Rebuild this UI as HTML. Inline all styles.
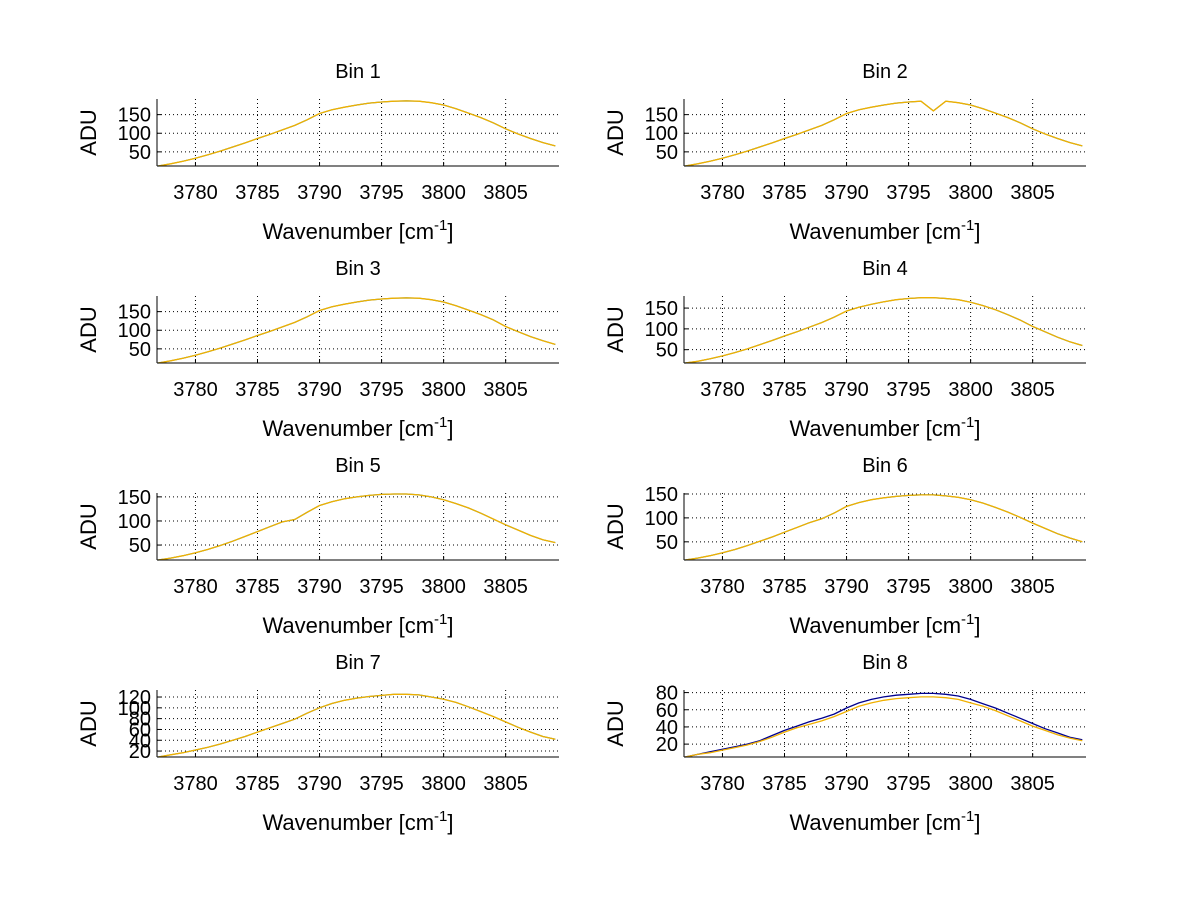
<!DOCTYPE html>
<html><head><meta charset="utf-8">
<style>
body{margin:0;background:#fff;}
svg{display:block;font-family:"Liberation Sans",sans-serif;}
</style></head>
<body>
<svg id="fig" width="1200" height="901" viewBox="0 0 1200 901"></svg>
<script>
const wavenumbers=[3777,3778,3779,3780,3781,3782,3783,3784,3785,3786,3787,3788,3789,3790,3791,3792,3793,3794,3795,3796,3797,3798,3799,3800,3801,3802,3803,3804,3805,3806,3807,3808,3809];
const xTicks=[3780,3785,3790,3795,3800,3805];
const bin1=[12,18,25,33,42,52,63,74,86,97,109,121,136,153,163,170,176,181,184,186,187,186,182,176,166,154,142,128,112,98,86,75,66];
const bin2=[12,18,25,33,42,52,63,74,86,97,109,121,136,153,163,170,176,181,184,186,160,186,182,176,166,154,142,128,112,98,86,75,66];
const bin3=[12,18,25,33,42,52,63,74,86,97,109,121,136,153,163,170,176,181,184,186,187,186,182,176,166,154,142,128,110,96,83,72,62];
const bin4=[18,22,28,35,43,52,62,72,83,93,104,115,128,143,152,159,165,170,173,175,175,173,170,164,156,146,134,121,106,93,80,69,60];
const bin5=[19,23,28,34,41,49,58,68,78,88,98,103,118,132,140,146,150,153,155,156,156,154,150,144,136,127,116,104,92,81,70,61,55];
const bin6=[12,16,21,27,34,42,51,60,70,80,90,98,110,124,132,138,142,145,147,148,148,146,143,138,131,122,112,101,89,78,67,58,50];
const bin7=[9,13,17,22,27,33,40,47,55,63,71,79,90,100,108,114,118,121,123,125,125,124,120,116,110,102,93,84,74,64,55,47,42];
const bin8blue=[5,8,11,14,17,20,24,30,36,41,46,50,55,62,68,72,75,77,78,79,79,78,76,72,67,62,56,50,44,38,33,28,25];
const bin8orange=[5,8,10,13,16,19,23,28,34,39,43,47,52,58,64,68,71,73,74,75,75,74,72,68,64,59,53,47,41,36,31,27,24];
const seriesList=[[bin1],[bin2],[bin3],[bin4],[bin5],[bin6],[bin7],[bin8blue,bin8orange]];
const yRanges=[[12,192],[12,192],[12,192],[18,179],[19,158],[12,152],[9,133],[5,83]];
const yTickSets=[[50,100,150],[50,100,150],[50,100,150],[50,100,150],[50,100,150],[50,100,150],[20,40,60,80,100,120],[20,40,60,80]];
const xMin=3776.9,xMax=3809.3;

const svg=document.getElementById('fig');
const NS='http://www.w3.org/2000/svg';
function mk(tag,attrs,parent){const e=document.createElementNS(NS,tag);for(const k in attrs)e.setAttribute(k,attrs[k]);(parent||svg).appendChild(e);return e;}

for(let i=0;i<8;i++){
  const col=i%2,row=Math.floor(i/2);
  const L=col?684:157,R=col?1086:559,T=99+row*197,B=T+67;
  const [y0,y1]=yRanges[i];
  const sx=v=>L+(v-xMin)/(xMax-xMin)*(R-L);
  const sy=v=>B-(v-y0)/(y1-y0)*(B-T);
  const g=mk('g',{});
  
  
  // grid
  xTicks.forEach(t=>{const l=mk('line',{x1:sx(t),x2:sx(t),y1:T,y2:B,stroke:'#000','stroke-width':1,'stroke-dasharray':'1,3'},g);
    
    mk('line',{x1:sx(t),x2:sx(t),y1:B,y2:B-4,stroke:'#000'},g);
    const tx=mk('text',{x:sx(t),y:B+33,'font-size':20,'text-anchor':'middle',fill:'#000'},g);tx.textContent=t;
    });
  yTickSets[i].forEach(t=>{const l=mk('line',{x1:L,x2:R,y1:sy(t),y2:sy(t),stroke:'#000','stroke-width':1,'stroke-dasharray':'1,3'},g);
    
    mk('line',{x1:L,x2:L+4,y1:sy(t),y2:sy(t),stroke:'#000'},g);
    const tx=mk('text',{x:L-6,y:sy(t)+7,'font-size':20,'text-anchor':'end',fill:'#000'},g);tx.textContent=t;
    });
  // series
  const sers=seriesList[i];
  const colors=sers.length>1?['#00008f','#f0b000']:['#f0b000'];
  if(sers.length>1){ // cyan/green middles
    const mid=sers[0].map((v,k)=>(v+sers[1][k])/2);
  }
  sers.forEach((arr,si)=>{
    const d=arr.map((v,k)=>(k?'L':'M')+sx(wavenumbers[k]).toFixed(1)+','+sy(v).toFixed(1)).join(' ');
    if(si===0&&sers.length===1){const p0=mk('path',{d:d,fill:'none',stroke:'#2a8a8a','stroke-width':1.2},g);
      }
    const p=mk('path',{d:d,fill:'none',stroke:colors[si],'stroke-width':1.3},g);
    
  });
  // axes
  mk('line',{x1:L,x2:R,y1:B,y2:B,stroke:'#000'},g);
  mk('line',{x1:L,x2:L,y1:T,y2:B,stroke:'#000'},g);
  const ti=mk('text',{x:(L+R)/2,y:T-21,'font-size':20,'text-anchor':'middle',fill:'#000'},g);ti.textContent='Bin '+(i+1);
  
  const xl=mk('text',{x:(L+R)/2,y:B+73,'font-size':22,'text-anchor':'middle',fill:'#000'},g);
  xl.innerHTML='Wavenumber [cm<tspan dy="-9" font-size="15">-1</tspan><tspan dy="9">]</tspan>';
  
  const yl=mk('text',{x:0,y:0,'font-size':22,'text-anchor':'middle',fill:'#000',transform:'translate('+(L-61)+','+((T+B)/2)+') rotate(-90)'},g);yl.textContent='ADU';
  
}
</script>
</body></html>
